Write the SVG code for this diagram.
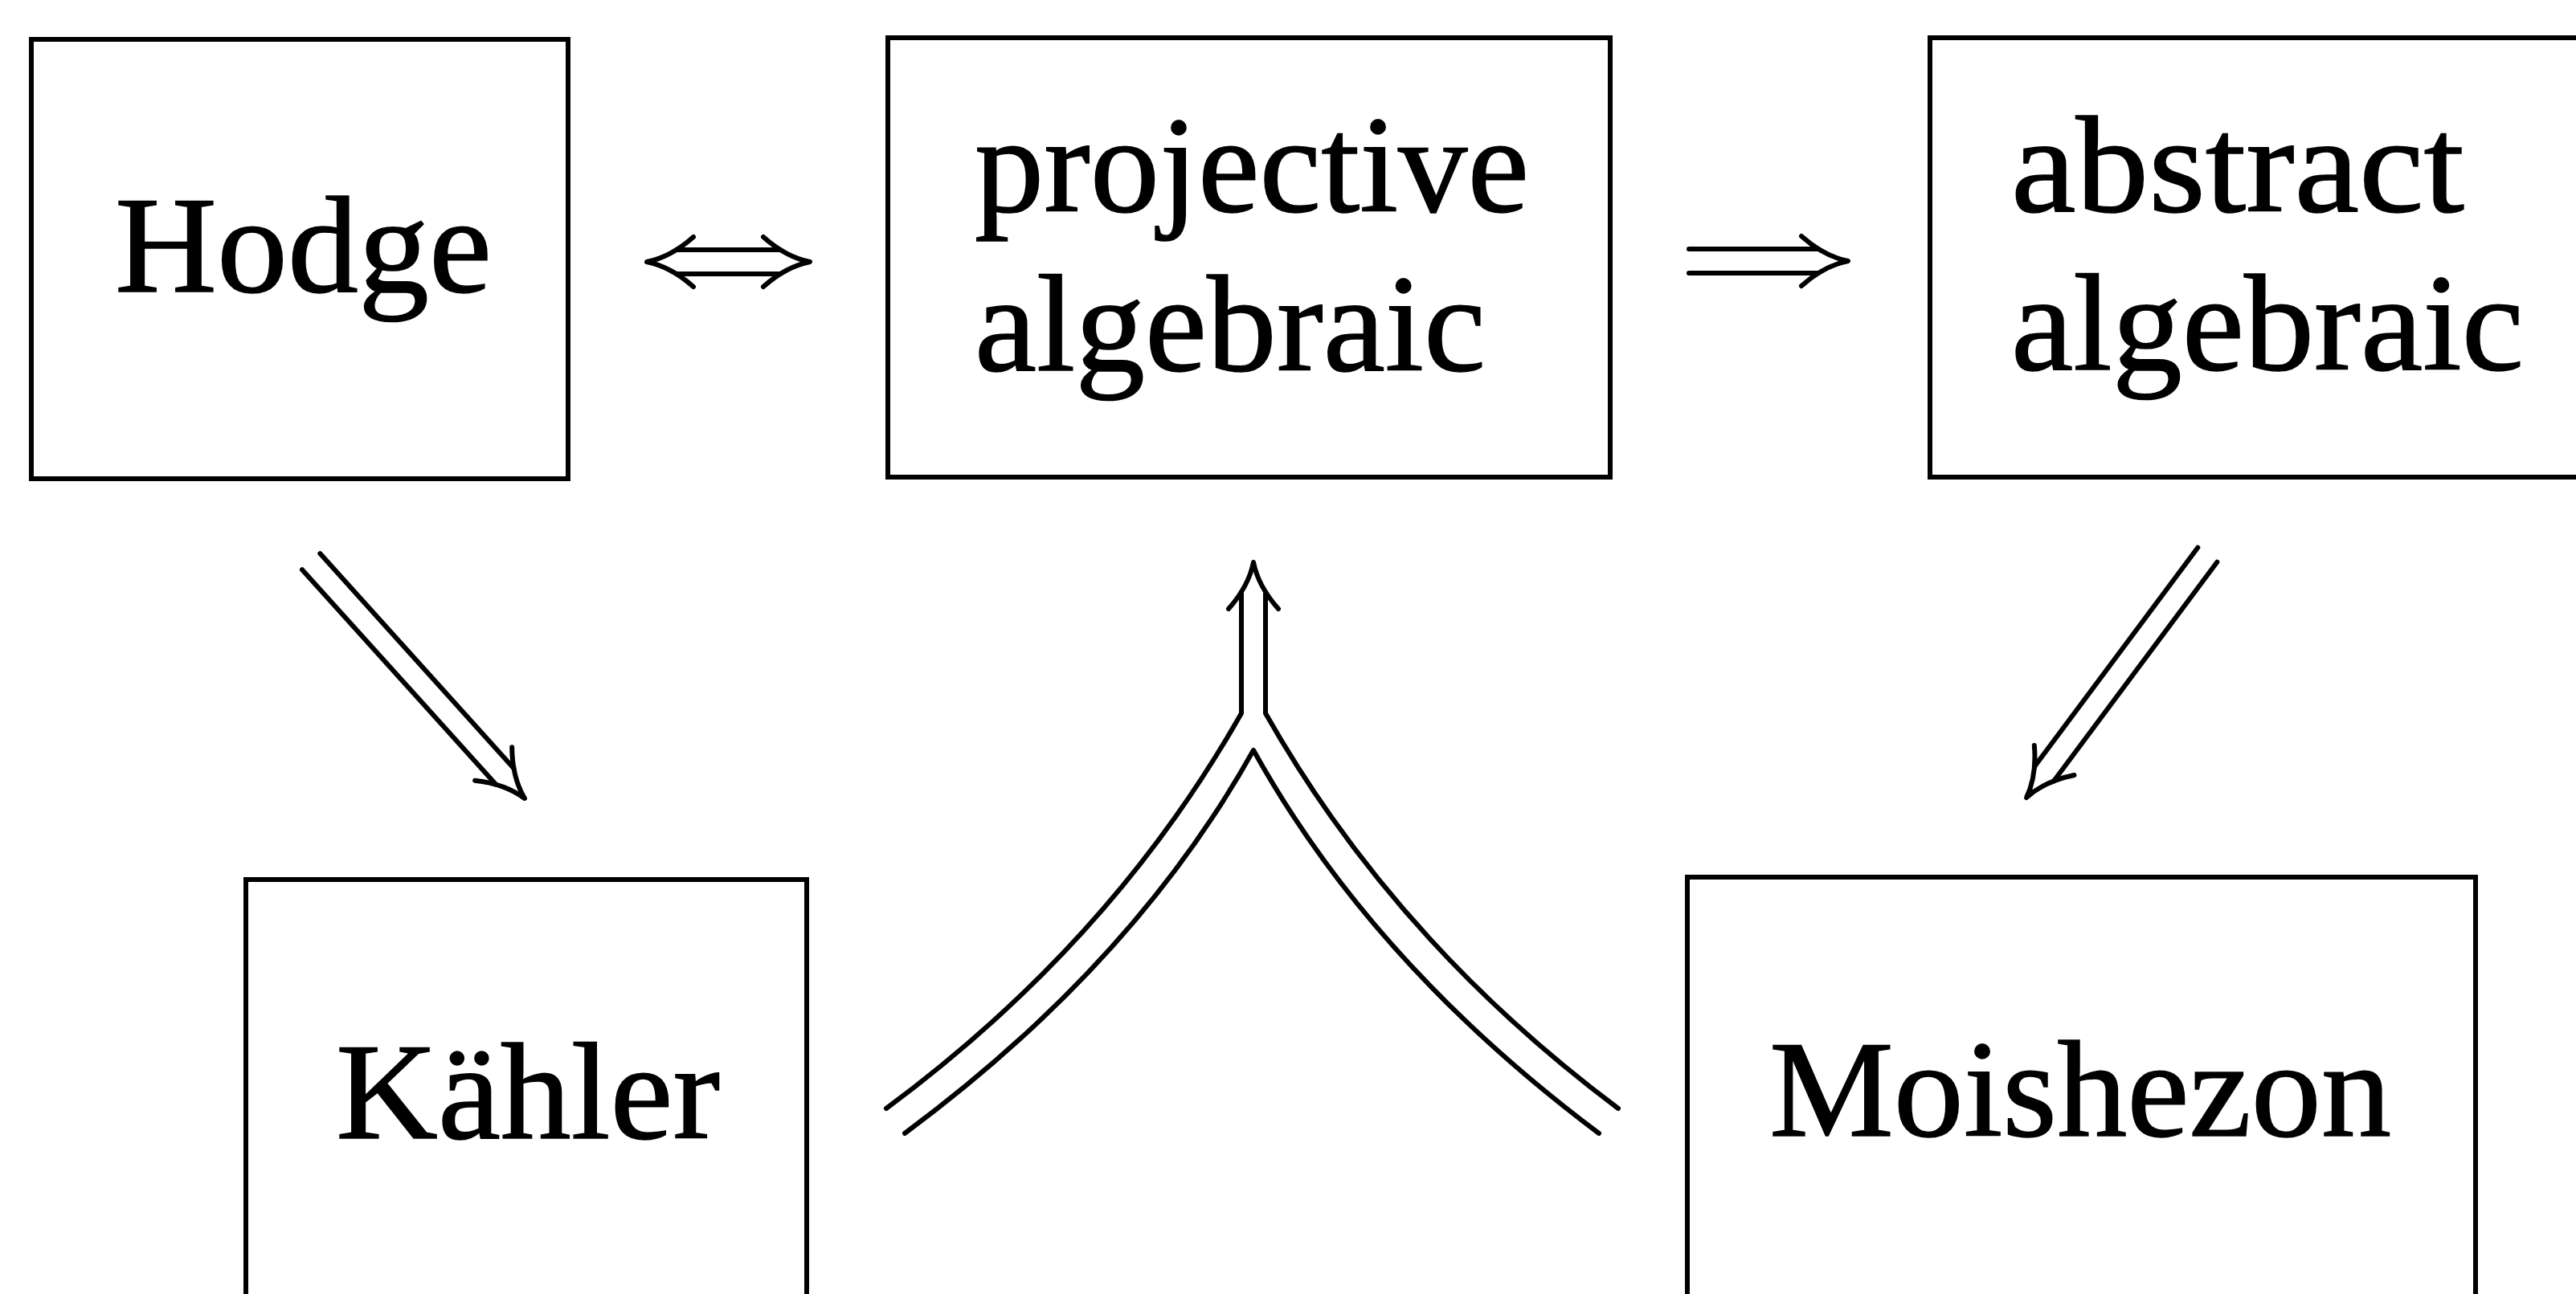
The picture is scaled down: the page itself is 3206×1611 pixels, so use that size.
<svg xmlns="http://www.w3.org/2000/svg" width="3206" height="1611" viewBox="0 0 3206 1611">
<style>
.box{fill:none;stroke:#000;stroke-width:6}
.lbl{font-family:"Liberation Serif","Times New Roman",serif;font-size:172px;fill:#000;stroke:#000;stroke-width:1.5}
.ln{fill:none;stroke:#000;stroke-width:6;stroke-linecap:round;stroke-linejoin:round}
</style>
<defs>
<path id="head" d="M -58 -31 Q -30 -6 0 0 Q -30 6 -58 31" class="ln"/>
</defs>
<rect width="3206" height="1611" fill="#fff"/>
<g id="hodge">
<rect class="box" x="39" y="49" width="668" height="547"/>
<text class="lbl" x="143" y="363" textLength="469" lengthAdjust="spacingAndGlyphs">Hodge</text>
</g>
<g id="projective">
<rect class="box" x="1105" y="47" width="899" height="547"/>
<text class="lbl" x="1213" y="263" textLength="690" lengthAdjust="spacingAndGlyphs">projective</text>
<text class="lbl" x="1213" y="461" textLength="636" lengthAdjust="spacingAndGlyphs">algebraic</text>
</g>
<g id="abstract">
<rect class="box" x="2402" y="47" width="830" height="547"/>
<text class="lbl" x="2503" y="263" textLength="564" lengthAdjust="spacingAndGlyphs">abstract</text>
<text class="lbl" x="2503" y="460" textLength="638" lengthAdjust="spacingAndGlyphs">algebraic</text>
</g>
<g id="kahler">
<rect class="box" x="306" y="1095" width="698" height="560"/>
<text class="lbl" x="418" y="1417" textLength="478" lengthAdjust="spacingAndGlyphs">Kähler</text>
</g>
<g id="moishezon">
<rect class="box" x="2100" y="1092" width="981" height="560"/>
<text class="lbl" x="2202" y="1414" textLength="774" lengthAdjust="spacingAndGlyphs">Moishezon</text>
</g>
<g id="connectors">
<!-- Hodge <=> projective -->
<g transform="translate(1008 326)">
<use href="#head"/>
<path class="ln" d="M -37 -15 L -166 -15 M -37 15 L -166 15"/>
</g>
<use href="#head" transform="translate(805 326) rotate(180)"/>
<!-- projective => abstract -->
<g transform="translate(2300 325)">
<use href="#head"/>
<path class="ln" d="M -37 -15 L -198 -15 M -37 15 L -198 15"/>
</g>
<!-- Hodge => Kähler -->
<g transform="translate(653 994) rotate(47.96)">
<use href="#head"/>
<path class="ln" d="M -37 -15 L -397 -15 M -37 15 L -397 15"/>
</g>
<!-- abstract => Moishezon -->
<g transform="translate(2522 993) rotate(126.7)">
<use href="#head"/>
<path class="ln" d="M -37 -15 L -377 -15 M -37 15 L -377 15"/>
</g>
<!-- Kähler + Moishezon => projective -->
<use href="#head" transform="translate(1560 700) rotate(-90)"/>
<path class="ln" d="M 1545 737 L 1545 888 Q 1384 1172 1103 1380"/>
<path class="ln" d="M 1575 737 L 1575 888 Q 1736 1172 2014 1380"/>
<path class="ln" d="M 1126 1411 Q 1412 1199 1560 934 Q 1707 1199 1990 1411"/>
</g>
</svg>
